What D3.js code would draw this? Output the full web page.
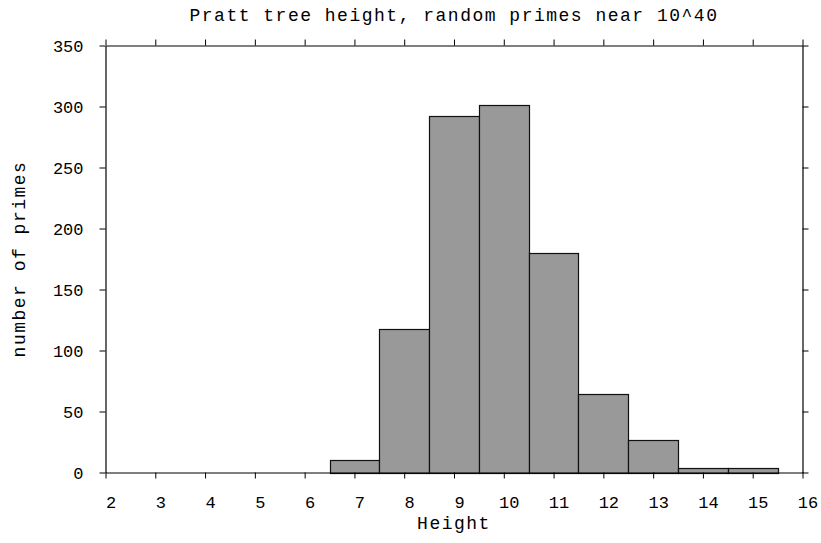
<!DOCTYPE html>
<meta charset="utf-8" />
<script src="https://d3js.org/d3.v7.min.js"></script>
<style>
  body { margin: 0; background: #fff; }
  text { font-family: "Liberation Mono", "Courier New", monospace; fill: #000; }
</style>
<body>
  <div id="my_dataviz"></div>
</body>
<script>
  // histogram data: tree height -> number of primes
  var heights = [2, 3, 4, 5, 6, 7, 8, 9, 10, 11, 12, 13, 14, 15];
  var counts = [0, 0, 0, 0, 0, 10, 118, 292, 301, 180, 64, 27, 4, 4];
  var xTicks = [2, 3, 4, 5, 6, 7, 8, 9, 10, 11, 12, 13, 14, 15, 16];
  var yTicks = [0, 50, 100, 150, 200, 250, 300, 350];

  var data = heights.map(function (h, i) {
    return { h: h, n: counts[i] };
  });

  var W = 821, H = 543;
  // plot box edges (note: "top" is reserved on window, so use other names)
  var plotL = 105.5, plotR = 802.5, plotT = 45.5, plotB = 472.5;

  var svg = d3
    .select("#my_dataviz")
    .append("svg")
    .attr("width", W)
    .attr("height", H);

  var x = d3.scaleLinear().domain([2, 16]).range([plotL, plotR]);
  var y = d3.scaleLinear().domain([0, 350]).range([plotB, plotT]);

  // bars (width 1, centred on the height value)
  svg
    .selectAll("rect.bar")
    .data(data.filter(function (d) { return d.n > 0; }))
    .enter()
    .append("rect")
    .attr("class", "bar")
    .attr("x", function (d) { return Math.round(x(d.h - 0.5)) + 0.5; })
    .attr("y", function (d) { return Math.round(y(d.n)) + 0.5; })
    .attr("width", function (d) {
      return Math.round(x(d.h + 0.5)) - Math.round(x(d.h - 0.5));
    })
    .attr("height", function (d) {
      return Math.round(y(0)) - Math.round(y(d.n));
    })
    .attr("fill", "#999999")
    .attr("stroke", "#111")
    .attr("stroke-width", 1.2);

  // axes (ticks pointing outward on all four sides)
  function styleAxis(g) {
    g.select(".domain").attr("stroke", "#000").attr("stroke-width", 1.2);
    g.selectAll(".tick line").attr("stroke", "#000").attr("stroke-width", 1);
  }

  var xAxis = svg
    .append("g")
    .attr("transform", "translate(0," + plotB + ")")
    .call(d3.axisBottom(x).tickValues(xTicks).tickSize(6).tickSizeOuter(0));
  styleAxis(xAxis);
  xAxis
    .selectAll(".tick text")
    .attr("y", 35)
    .attr("dy", null)
    .attr("dx", 5)
    .style("font-size", "17px");

  var topAxis = svg
    .append("g")
    .attr("transform", "translate(0," + plotT + ")")
    .call(d3.axisTop(x).tickValues(xTicks).tickSize(6).tickSizeOuter(0));
  styleAxis(topAxis);
  topAxis.selectAll(".tick text").remove();

  var yAxis = svg
    .append("g")
    .attr("transform", "translate(" + plotL + ",0)")
    .call(d3.axisLeft(y).tickValues(yTicks).tickSize(6).tickSizeOuter(0));
  styleAxis(yAxis);
  yAxis
    .selectAll(".tick text")
    .attr("x", -22)
    .attr("dy", "0.36em")
    .style("font-size", "17px");

  var rightAxis = svg
    .append("g")
    .attr("transform", "translate(" + plotR + ",0)")
    .call(d3.axisRight(y).tickValues(yTicks).tickSize(6).tickSizeOuter(0));
  styleAxis(rightAxis);
  rightAxis.selectAll(".tick text").remove();

  // title and axis labels
  svg
    .append("text")
    .attr("x", (plotL + plotR) / 2)
    .attr("y", 21)
    .attr("text-anchor", "middle")
    .style("font-size", "18px")
    .style("letter-spacing", "1.5px")
    .text("Pratt tree height, random primes near 10^40");

  svg
    .append("text")
    .attr("x", (plotL + plotR) / 2)
    .attr("y", 529)
    .attr("text-anchor", "middle")
    .style("font-size", "18px")
    .style("letter-spacing", "1.5px")
    .text("Height");

  svg
    .append("text")
    .attr("transform", "translate(25," + (plotT + plotB) / 2 + ") rotate(-90)")
    .attr("text-anchor", "middle")
    .style("font-size", "18px")
    .style("letter-spacing", "1.5px")
    .text("number of primes");
</script>
